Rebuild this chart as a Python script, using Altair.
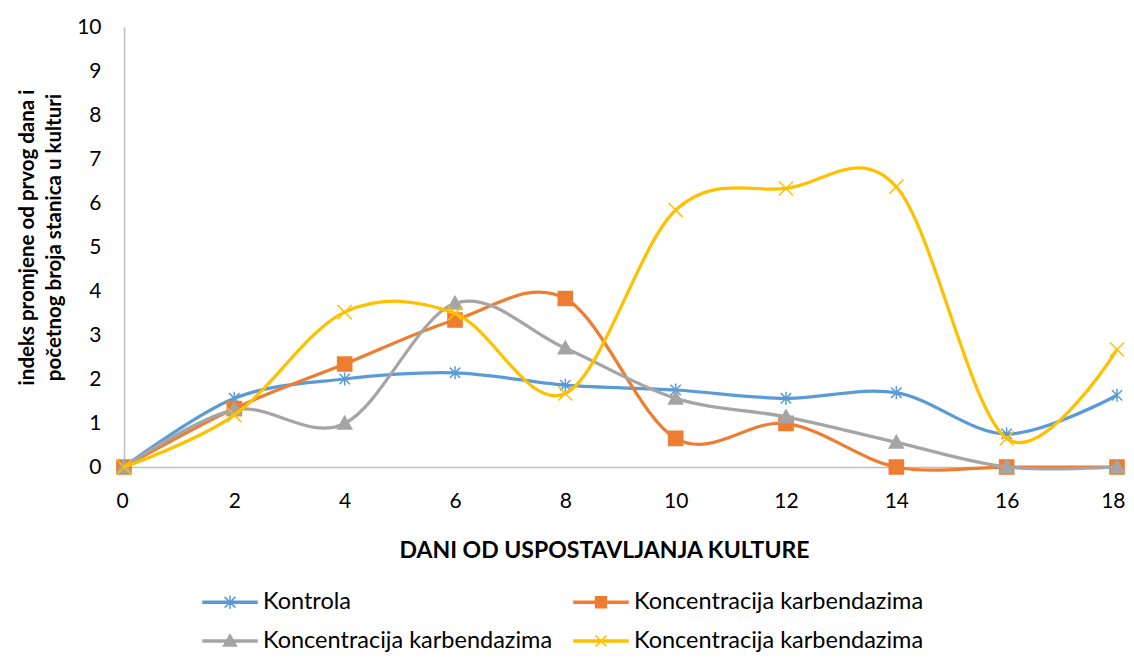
import altair as alt
import pandas as pd

days = [0, 2, 4, 6, 8, 10, 12, 14, 16, 18]
kontrola = [0, 1.56, 2.0, 2.14, 1.86, 1.75, 1.56, 1.69, 0.75, 1.63]
konc_a = [0, 1.33, 2.34, 3.34, 3.83, 0.65, 0.99, 0, 0, 0]
konc_b = [0, 1.3, 0.99, 3.72, 2.70, 1.56, 1.14, 0.56, 0, 0]
konc_c = [0, 1.18, 3.52, 3.49, 1.67, 5.84, 6.33, 6.37, 0.65, 2.67]

series_keys = ["Kontrola", "Koncentracija karbendazima|1",
               "Koncentracija karbendazima|2", "Koncentracija karbendazima|3"]
series_values = [kontrola, konc_a, konc_b, konc_c]
colors = ["#5B9BD5", "#ED7D31", "#A5A5A5", "#FFC000"]
y_ticks = [0, 1, 2, 3, 4, 5, 6, 7, 8, 9, 10]
x_ticks = days

# marker shapes (unit paths)
marker_paths = [
    "M0,-1V1M-0.8,-0.8L0.8,0.8M-0.8,0.8L0.8,-0.8",
    "M-1,-1H1V1H-1Z",
    "M0,-1L1,0.8H-1Z",
    "M-1,-1L1,1M-1,1L1,-1",
]
marker_sizes = [170, 200, 200, 200]

line_rect = "M-1.5,-0.06H1.5V0.06H-1.5Z"
legend_paths = [
    line_rect + "M0,-0.38V0.38M-0.3,-0.3L0.3,0.3M-0.3,0.3L0.3,-0.3",
    line_rect + "M-0.3,-0.3H0.3V0.3H-0.3Z",
    line_rect + "M0,-0.36L0.36,0.28H-0.36Z",
    line_rect + "M-0.3,-0.3L0.3,0.3M-0.3,0.3L0.3,-0.3",
]

rows = []
for key, vals in zip(series_keys, series_values):
    for d, v in zip(days, vals):
        rows.append({"day": d, "value": v, "series": key})
df = pd.DataFrame(rows)

FONT = "Lato"

color_scale = alt.Scale(domain=series_keys, range=colors)
shape_scale = alt.Scale(domain=series_keys, range=legend_paths)

legend = alt.Legend(
    title=None,
    orient="none",
    legendX=78,
    legendY=556,
    columns=2,
    direction="horizontal",
    columnPadding=18,
    rowPadding=8,
    labelFont=FONT,
    labelFontSize=23.5,
    labelColor="#000000",
    labelLimit=0,
    labelExpr="split(datum.label, '|')[0]",
    symbolSize=1296,
    symbolOffset=9,
    labelOffset=14,
    symbolStrokeWidth=1.5,
    symbolOpacity=1,
    padding=0,
)

x_enc = alt.X(
    "day:Q",
    scale=alt.Scale(domain=[0, 18], nice=False, zero=False),
    axis=alt.Axis(
        values=x_ticks,
        title="DANI OD USPOSTAVLJANJA KULTURE",
        titleFont=FONT,
        titleFontSize=23,
        titleFontWeight="bold",
        titleColor="#000000",
        titleX=480,
        titleY=83,
        titleBaseline="middle",
        titleAlign="center",
        labelFont=FONT,
        labelFontSize=21,
        labelColor="#000000",
        labelPadding=23,
        labelFlush=True,
        labelFlushOffset=8,
        ticks=False,
        grid=False,
        domainColor="#BFBFBF",
        domainWidth=1.5,
    ),
)
y_enc = alt.Y(
    "value:Q",
    scale=alt.Scale(domain=[0, 10], nice=False),
    axis=alt.Axis(
        values=y_ticks,
        title=["indeks promjene od prvog dana i", "početnog broja stanica u kulturi"],
        titleFont=FONT,
        titleFontSize=20.5,
        titleFontWeight="bold",
        titleColor="#000000",
        titleLineHeight=27,
        titleAngle=270,
        titleX=-97,
        titleY=210,
        titleBaseline="middle",
        titleAlign="center",
        labelFont=FONT,
        labelFontSize=21,
        labelColor="#000000",
        labelPadding=23,
        ticks=False,
        grid=False,
        domainColor="#BFBFBF",
        domainWidth=1.5,
        labelFlush=False,
    ),
)

layers = []
for i, key in enumerate(series_keys):
    base = alt.Chart(df).transform_filter(alt.datum.series == key)
    line = base.mark_line(interpolate="cardinal", strokeWidth=3.25, color=colors[i]).encode(
        x=x_enc,
        y=y_enc,
    )
    pts = base.mark_point(
        shape=marker_paths[i],
        size=marker_sizes[i],
        strokeWidth=1.5,
        opacity=1,
        fill=colors[i],
        stroke=colors[i],
        fillOpacity=1,
    ).encode(x=x_enc, y=y_enc)
    layers += [line, pts]

legend_layer = alt.Chart(df).transform_filter("false").mark_point(
    strokeWidth=1.5, opacity=1, fillOpacity=1
).encode(
    x=x_enc,
    y=y_enc,
    shape=alt.Shape("series:N", scale=shape_scale, legend=legend),
    fill=alt.Fill("series:N", scale=color_scale, legend=legend),
    stroke=alt.Stroke("series:N", scale=color_scale, legend=legend),
)
layers.append(legend_layer)

chart = alt.layer(*layers).properties(
    width=993,
    height=440,
    padding={"left": 116, "top": 19, "right": 9, "bottom": 189},
    autosize=alt.AutoSizeParams(type="none"),
    background="#FFFFFF",
).configure_view(stroke=None)

chart.save("out.html", embed_options={"renderer": "svg", "actions": False})
